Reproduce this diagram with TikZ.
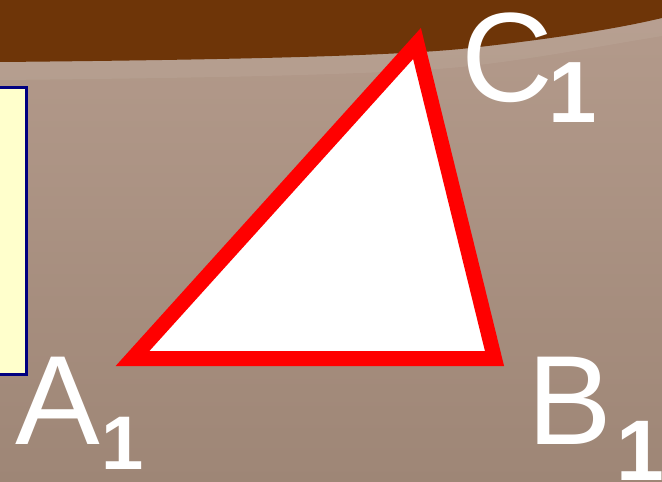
\documentclass[tikz,border=0pt]{standalone}
\usepackage{fontspec}
\setmainfont{Liberation Sans}
\definecolor{bandbrown}{RGB}{110,53,8}
\definecolor{bgtop}{RGB}{180,155,140}
\definecolor{bgbot}{RGB}{158,134,118}
\definecolor{paleyellow}{RGB}{255,255,204}
\definecolor{navyline}{RGB}{0,0,128}
\tikzset{
  lbl/.style={text=white, inner sep=0pt, anchor=base west, font=\fontsize{127bp}{127bp}\selectfont},
  tri/.style={draw=red, fill=white, line width=15bp, miter limit=20},
  infobox/.style={draw=navyline, fill=paleyellow, line width=3bp}
}
\newcommand{\subone}[2]{\raisebox{-#1bp}{\fontsize{#2bp}{#2bp}\selectfont\bfseries 1}}
\begin{document}
\begin{tikzpicture}[x=1bp,y=-1bp]
\useasboundingbox (0,0) rectangle (662,482);
% background
\shade[top color=bgtop, bottom color=bgbot] (0,0) rectangle (662,482);
% soft light strip under the band
\fill[white, opacity=0.06] (0,62) .. controls (220,60) and (400,56) .. (470,48) .. controls (560,38) and (620,28) .. (662,18) -- (662,36) .. controls (600,46) and (540,58) .. (470,66) .. controls (400,74) and (220,78) .. (0,80) -- cycle;
% top band
\fill[bandbrown] (0,0) -- (662,0) -- (662,18) .. controls (620,28) and (560,38) .. (470,48) .. controls (400,56) and (220,60) .. (0,62) -- cycle;
% yellow box (cut at left edge)
\draw[infobox] (-10,87.5) rectangle (26.5,374.5);
% triangle
\coordinate (A) at (132.5,358.5);
\coordinate (B) at (494.5,358.5);
\coordinate (C) at (417,43.5);
\draw[tri] (A) -- (B) -- (C) -- cycle;
% labels
\node[lbl] (lA) at (15,444) {A\kern2bp\subone{25}{76}};
\node[lbl] (lB) at (527,444) {B\kern5bp\subone{36}{86}};
\node[lbl] (lC) at (461,102) {C\kern-4bp\subone{21}{87}};
\end{tikzpicture}
\end{document}
